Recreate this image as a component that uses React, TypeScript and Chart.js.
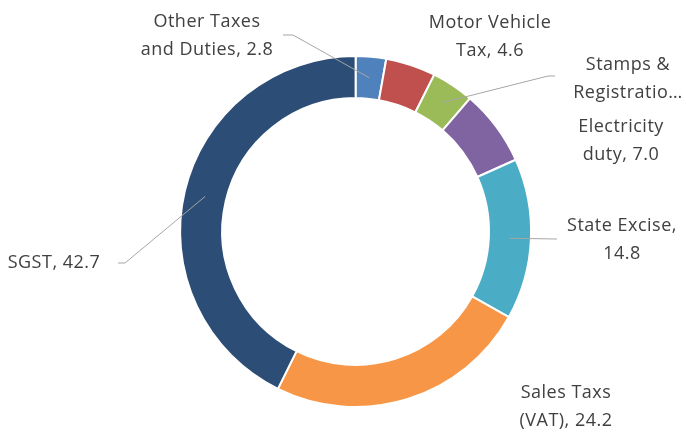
import React, { useEffect, useRef } from "react";
import { Chart, registerables } from "chart.js";

Chart.register(...registerables);

const categories = [
  "Other Taxes and Duties",
  "Motor Vehicle Tax",
  "Stamps & Registration",
  "Electricity duty",
  "State Excise",
  "Sales Taxs (VAT)",
  "SGST",
];
const values = [2.8, 4.6, 3.9, 7.0, 14.8, 24.2, 42.7];
const colors = ["#4f81bd", "#c0504d", "#9bbb59", "#8064a2", "#4bacc6", "#f79646", "#2c4d75"];

// label text lines ({v} replaced by value)
const labelLines = [
  ["Other Taxes", "and Duties, {v}"],
  ["Motor Vehicle", "Tax, {v}"],
  ["Stamps &", "Registratio…"],
  ["Electricity", "duty, {v}"],
  ["State Excise,", "{v}"],
  ["Sales Taxs", "(VAT), {v}"],
  ["SGST, {v}"],
];

// layout: label centre x, first line centre y, leader path from label side (arc point appended)
const labelLayout = [
  { x: 207, y: 22, leader: [[283, 35], [293, 35]] },
  { x: 490, y: 23, leader: null },
  { x: 628, y: 65, leader: [[555, 76], [548, 76]] },
  { x: 621, y: 127, leader: null },
  { x: 622, y: 226, leader: [[557, 239]] },
  { x: 566, y: 393, leader: null },
  { x: 54, y: 263, leader: [[118, 263], [125, 263]] },
];

const FONT = '18px "Open Sans"';
const LINE_H = 28;

const labelPlugin = {
  id: "sliceLabels",
  afterDatasetsDraw(chart: any) {
    const ctx = chart.ctx;
    const meta = chart.getDatasetMeta(0);
    ctx.save();
    meta.data.forEach((arc: any, i: number) => {
      const p = arc.getProps(["x", "y", "startAngle", "endAngle", "innerRadius", "outerRadius"], true);
      const mid = (p.startAngle + p.endAngle) / 2;
      const r = (p.innerRadius + p.outerRadius) / 2;
      const ax = p.x + Math.cos(mid) * r;
      const ay = p.y + Math.sin(mid) * r;
      const lay = labelLayout[i];
      if (lay.leader) {
        ctx.beginPath();
        ctx.strokeStyle = "#a6a6a6";
        ctx.lineWidth = 1;
        lay.leader.forEach((pt: number[], k: number) => {
          if (k === 0) ctx.moveTo(pt[0], pt[1]);
          else ctx.lineTo(pt[0], pt[1]);
        });
        ctx.lineTo(ax, ay);
        ctx.stroke();
      }
      ctx.font = FONT;
      (ctx as any).letterSpacing = "0.5px";
      ctx.fillStyle = "#404040";
      ctx.textAlign = "center";
      ctx.textBaseline = "middle";
      labelLines[i].forEach((ln, k) => {
        const t = ln.replace("{v}", values[i].toFixed(1));
        ctx.fillText(t, lay.x, lay.y + k * LINE_H);
      });
    });
    ctx.restore();
  },
};

export default function App() {
  const ref = useRef<HTMLCanvasElement>(null);
  useEffect(() => {
    if (!ref.current) return;
    const chart = new Chart(ref.current, {
      type: "doughnut",
      data: {
        labels: categories,
        datasets: [
          {
            data: values,
            backgroundColor: colors,
            borderColor: "#ffffff",
            borderWidth: 2,
          },
        ],
      },
      options: {
        responsive: false,
        animation: false,
        cutout: "76%",
        layout: { padding: { top: 55, bottom: 29, left: 179.1, right: 153.9 } },
        plugins: {
          legend: { display: false },
          tooltip: { enabled: false },
        },
      },
      plugins: [labelPlugin],
    });
    return () => chart.destroy();
  }, []);
  return (
    <div style={{ position: "absolute", left: 0, top: 0, width: 686, height: 437, background: "#fff" }}>
      <canvas ref={ref} width={686} height={437} style={{ display: "block" }} />
    </div>
  );
}
